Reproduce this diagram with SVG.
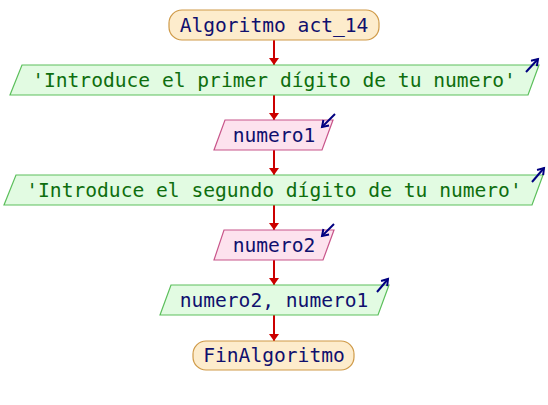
<svg xmlns="http://www.w3.org/2000/svg" width="548" height="405" viewBox="0 0 548 405">
  <style>
    .term { fill: #fdeccc; stroke: #cf9a48; stroke-width: 1.2; }
    .out  { fill: #e2fbe2; stroke: #5cbf5c; stroke-width: 1.2; }
    .in   { fill: #fde2ee; stroke: #c8558a; stroke-width: 1.2; }
    text  { font-family: "DejaVu Sans Mono", "Liberation Mono", monospace; font-size: 19.6px; text-anchor: middle; }
    .kw   { fill: #10106e; }
    .var  { fill: #10106e; }
    .str  { fill: #0e6e0e; }
    .flow { stroke: #cc0000; stroke-width: 2; fill: none; marker-end: url(#head); }
    .io   { stroke: #000080; stroke-width: 2; fill: none; marker-end: url(#iohead); }
  </style>
  <defs>
    <marker id="head" markerUnits="userSpaceOnUse" markerWidth="7" markerHeight="10" refX="7" refY="5" orient="auto">
      <path d="M0,0 L7,5 L0,10 z" fill="#cc0000"/>
    </marker>
    <marker id="iohead" markerUnits="userSpaceOnUse" markerWidth="10" markerHeight="10" refX="7" refY="5" orient="auto">
      <path d="M1,1 L7,5 L1,9" fill="none" stroke="#000080" stroke-width="2"/>
    </marker>
  </defs>

  <rect width="548" height="405" fill="#ffffff"/>

  <!-- flow connectors -->
  <g id="connectors">
    <line class="flow" x1="274" y1="40" x2="274" y2="65"/>
    <line class="flow" x1="274" y1="95" x2="274" y2="120"/>
    <line class="flow" x1="274" y1="150" x2="274" y2="175"/>
    <line class="flow" x1="274" y1="205" x2="274" y2="230"/>
    <line class="flow" x1="274" y1="260" x2="274" y2="285"/>
    <line class="flow" x1="274" y1="315" x2="274" y2="341"/>
  </g>

  <g id="start">
    <rect class="term" x="169" y="10" width="210" height="30" rx="13" ry="13"/>
    <text class="kw" x="274" y="32">Algoritmo act_14</text>
  </g>

  <g id="write1">
    <polygon class="out" points="22,65 539,65 528,95 10,95"/>
    <text class="str" x="274" y="87">'Introduce el primer dígito de tu numero'</text>
    <line class="io" x1="526" y1="72" x2="538" y2="59"/>
  </g>

  <g id="read1">
    <polygon class="in" points="225,120 333,120 322,150 214,150"/>
    <text class="var" x="274" y="142">numero1</text>
    <line class="io" x1="335" y1="114" x2="322" y2="127"/>
  </g>

  <g id="write2">
    <polygon class="out" points="16,175 543,175 532,205 4,205"/>
    <text class="str" x="274" y="197">'Introduce el segundo dígito de tu numero'</text>
    <line class="io" x1="532" y1="182" x2="544" y2="168"/>
  </g>

  <g id="read2">
    <polygon class="in" points="224,230 334,230 323,260 214,260"/>
    <text class="var" x="274" y="252">numero2</text>
    <line class="io" x1="334" y1="224" x2="322" y2="236"/>
  </g>

  <g id="write3">
    <polygon class="out" points="171,285 389,285 378,315 160,315"/>
    <text class="var" x="274" y="307">numero2, numero1</text>
    <line class="io" x1="377" y1="292" x2="388" y2="279"/>
  </g>

  <g id="end">
    <rect class="term" x="193" y="341" width="161" height="29" rx="13" ry="13"/>
    <text class="kw" x="274" y="362">FinAlgoritmo</text>
  </g>
</svg>
